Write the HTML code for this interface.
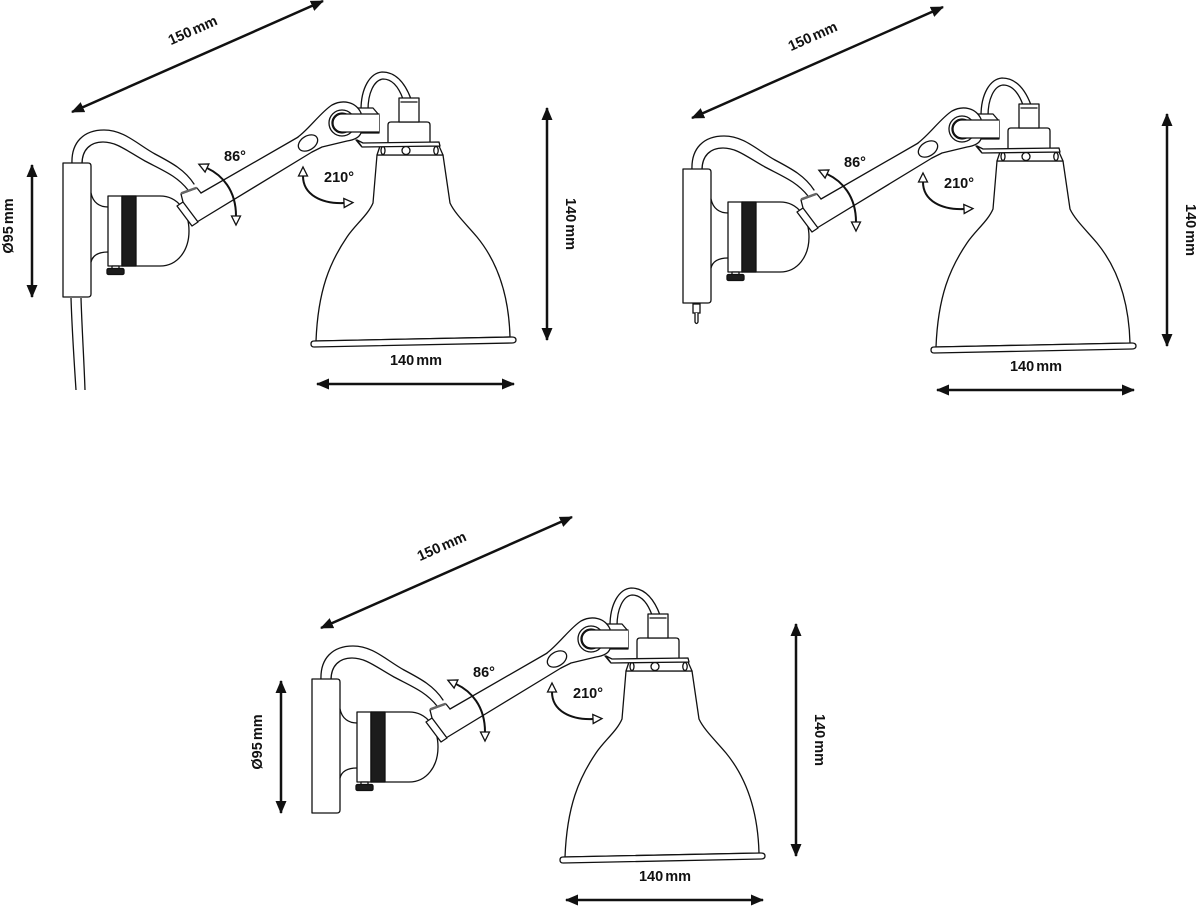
<!DOCTYPE html>
<html><head><meta charset="utf-8"><style>
html,body{margin:0;padding:0;background:#fff;}
svg{display:block;}
text{font-family:"Liberation Sans",sans-serif;font-weight:bold;font-size:14.5px;fill:#111;word-spacing:-2px;}
</style></head><body>
<svg width="1200" height="910" viewBox="0 0 1200 910" xmlns="http://www.w3.org/2000/svg">
<defs>
 <marker id="fa" viewBox="0 0 13 11" markerWidth="13" markerHeight="11" refX="12" refY="5.5" orient="auto-start-reverse" markerUnits="userSpaceOnUse"><path d="M0,0 L13,5.5 L0,11 z" fill="#111"/></marker>
 <marker id="ha" viewBox="-1 -1 12 12" markerWidth="12" markerHeight="12" refX="0" refY="4.5" orient="auto-start-reverse" markerUnits="userSpaceOnUse"><path d="M0,0 L9,4.5 L0,9 z" fill="#fff" stroke="#111" stroke-width="1.3" stroke-linejoin="miter"/></marker>
 <g id="lamp" fill="none" stroke="#111" stroke-width="1.3" stroke-linejoin="round" stroke-linecap="round">
  <!-- cable top -->
  <path d="M72,164 C71,142 84,130 104,130 C124,130 137,144 155,154 C172,163 185,170 194,184"/>
  <path d="M82,164 C82,150 90,142 103,142 C117,142 127,151 145,161 C164,171 177,176 188,190"/>
  <!-- back plate -->
  <path d="M63,163 H88 Q91,163 91,166 V294 Q91,297 88,297 H63 Z" fill="#fff"/>
  <!-- holder neck -->
  <path d="M91,193 C93,203 100,207 108,207"/>
  <path d="M91,262 C93,254 100,252 108,252"/>
  <!-- holder -->
  <path d="M108,196 H160 C178,196 189,212 189,231 C189,250 178,266 160,266 H108 Z" fill="#fff"/>
  <line x1="122" y1="196" x2="122" y2="266"/>
  <rect x="122" y="196" width="14" height="70" fill="#1c1c1c"/>
  <rect x="112" y="266" width="7" height="3" fill="#fff"/>
  <rect x="107" y="268.5" width="17" height="6" rx="1.5" fill="#1c1c1c"/>
  <!-- arm -->
  <path d="M181,194 L197,188 L201,193 L300,136 L312,152 L197,222 L192,226 L177,206 L183,202 Z" fill="#fff" stroke="none"/>
  <path d="M201,193 L300,136"/>
  <path d="M197,222 L312,152"/>
  <path d="M183,202 L198,222 L192,226 L177,206 Z" fill="#fff"/>
  <path d="M183,202 L181,194 L197,188 L201,193"/>
  <path d="M182,193 L196,188" stroke="#666" stroke-width="2.5"/>
  <!-- hoop -->
  <path d="M361,110 C361,88 370,73 382,72 C396,72 405,83 411,99"/>
  <path d="M368,110 C368,93 374,80 383,79 C393,79 399,88 403,99"/>
  <!-- shade -->
  <path d="M377,155 L373,203 C368,215 355,225 347,237 C330,262 318,290 316,341 L510,337 C509,300 500,265 477,237 C468,226 455,214 450,203 L443,155 Z" fill="#fff"/>
  <path d="M380,146 L439,146 L443,155 L377,155 Z" fill="#fff"/>
  <circle cx="406" cy="150.5" r="4"/>
  <ellipse cx="383" cy="150.5" rx="2" ry="4"/>
  <ellipse cx="436" cy="150.5" rx="2.2" ry="4"/>
  <path d="M314,341 L512,337 Q516,337 516,340 Q516,343 512,343 L314,347 Q311,347 311,344 Q311,341 314,341 Z" fill="#fff"/>
  <!-- socket -->
  <path d="M388,142 V125 Q388,122 391,122 H427 Q430,122 430,125 V142" fill="#fff"/>
  <rect x="399" y="98" width="20" height="24" fill="#fff"/>
  <line x1="401" y1="102" x2="417" y2="102"/>
  <!-- flange -->
  <path d="M357,140 L363,143 L439,142 L440,146 L362,147 Z" fill="#fff"/>
  <!-- bracket -->
  <path d="M350,108 H373 L379,115 V133 H350 Z" fill="#fff"/>
  <!-- plate -->
  <path d="M298,137 C310,128 321,112 332,105 C343,99 356,102 361,113 L361,133 C359,138 354,140 347,141 L322,147 L312,152 Z" fill="#fff" stroke="none"/>
  <path d="M298,137 C310,128 321,112 332,105 C343,99 356,102 361,113 L361,133 C359,138 354,140 347,141 L322,147 L312,152"/>
  <path d="M356,140 L361,146"/>
  <!-- ring -->
  <circle cx="342" cy="123" r="13" fill="#fff"/>
  <circle cx="342" cy="123" r="10"/>
  <path d="M379,114 H342 A9,9 0 0 0 342,132 H379" fill="#fff"/>
  <!-- oval -->
  <ellipse cx="308" cy="143" rx="10.5" ry="7" transform="rotate(-32 308 143)" fill="#fff"/>
  <!-- angle arcs -->
  <path d="M207,168 C222,175 236,190 236,216" stroke-width="2" marker-start="url(#ha)" marker-end="url(#ha)"/>
  <path d="M303,176 C303,195 322,204 344,203" stroke-width="2" marker-start="url(#ha)" marker-end="url(#ha)"/>
  <!-- dimension arrows -->
  <path d="M72,112 L323,1" stroke-width="2.5" stroke-linecap="butt" marker-start="url(#fa)" marker-end="url(#fa)"/>
  <path d="M547,108 V340" stroke-width="2.5" stroke-linecap="butt" marker-start="url(#fa)" marker-end="url(#fa)"/>
  <path d="M317,384 H514" stroke-width="2.5" stroke-linecap="butt" marker-start="url(#fa)" marker-end="url(#fa)"/>
 </g>
</defs>

<!-- Lamp 1 -->
<g>
 <use href="#lamp"/>
 <g fill="none" stroke="#111" stroke-width="1.3">
  <path d="M71,298 C72,330 74,360 76,390"/>
  <path d="M81,298 C82,330 84,360 85,390"/>
  <path d="M32,165 V297" stroke-width="2.5" marker-start="url(#fa)" marker-end="url(#fa)"/>
 </g>
 <text transform="translate(193,31) rotate(-24)" text-anchor="middle" dominant-baseline="central">150 mm</text>
 <text x="235" y="157" text-anchor="middle" dominant-baseline="central">86°</text>
 <text x="339" y="178" text-anchor="middle" dominant-baseline="central">210°</text>
 <text x="416" y="361" text-anchor="middle" dominant-baseline="central">140 mm</text>
 <text transform="translate(570,224) rotate(90)" text-anchor="middle" dominant-baseline="central">140 mm</text>
 <text transform="translate(9,226) rotate(-90)" text-anchor="middle" dominant-baseline="central">Ø95 mm</text>
</g>

<!-- Lamp 2 -->
<g transform="translate(620,6)">
 <use href="#lamp"/>
 <g fill="#fff" stroke="#111" stroke-width="1.3">
  <rect x="73" y="298" width="7" height="9"/>
  <path d="M75,307 V316 Q76.5,319 78,316 V307"/>
 </g>
 <text transform="translate(193,31) rotate(-24)" text-anchor="middle" dominant-baseline="central">150 mm</text>
 <text x="235" y="157" text-anchor="middle" dominant-baseline="central">86°</text>
 <text x="339" y="178" text-anchor="middle" dominant-baseline="central">210°</text>
 <text x="416" y="361" text-anchor="middle" dominant-baseline="central">140 mm</text>
 <text transform="translate(570,224) rotate(90)" text-anchor="middle" dominant-baseline="central">140 mm</text>
</g>

<!-- Lamp 3 -->
<g transform="translate(249,516)">
 <use href="#lamp"/>
 <g fill="none" stroke="#111" stroke-width="1.3">
  <path d="M32,165 V297" stroke-width="2.5" marker-start="url(#fa)" marker-end="url(#fa)"/>
 </g>
 <text transform="translate(193,31) rotate(-24)" text-anchor="middle" dominant-baseline="central">150 mm</text>
 <text x="235" y="157" text-anchor="middle" dominant-baseline="central">86°</text>
 <text x="339" y="178" text-anchor="middle" dominant-baseline="central">210°</text>
 <text x="416" y="361" text-anchor="middle" dominant-baseline="central">140 mm</text>
 <text transform="translate(570,224) rotate(90)" text-anchor="middle" dominant-baseline="central">140 mm</text>
 <text transform="translate(9,226) rotate(-90)" text-anchor="middle" dominant-baseline="central">Ø95 mm</text>
</g>
</svg>
</body></html>
